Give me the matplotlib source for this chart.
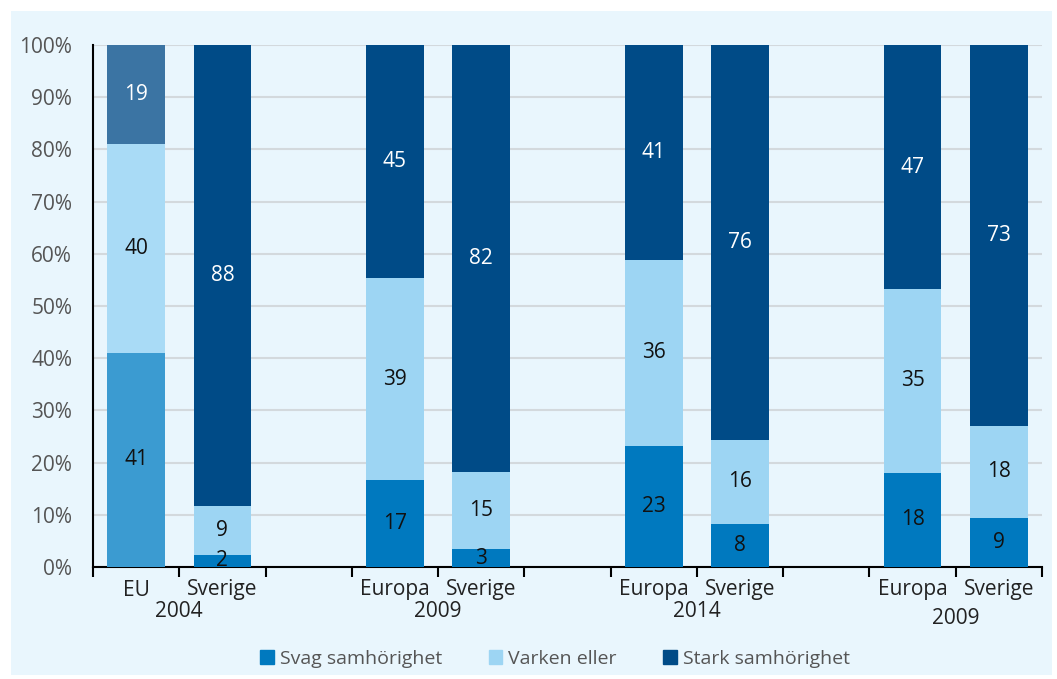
import matplotlib
matplotlib.use('Agg')
import matplotlib.pyplot as plt
import matplotlib.transforms as mtransforms
from matplotlib.patches import Rectangle
import numpy as np

plt.rcParams['font.family'] = ['Open Sans', 'DejaVu Sans']

# bar layout: slot positions (gaps between the year groups)
positions = [0, 1, 3, 4, 6, 7, 9, 10]
bar_labels = ['EU', 'Sverige', 'Europa', 'Sverige', 'Europa', 'Sverige', 'Europa', 'Sverige']
years = ['2004', '2009', '2014', '2009']
svag = [41, 2.3, 16.6, 3.4, 23.2, 8.3, 18.1, 9.3]
varken = [40, 9.3, 38.7, 14.8, 35.7, 16.1, 35.1, 17.8]
stark = [19, 88.4, 44.7, 81.8, 41.1, 75.6, 46.8, 72.9]
series_names = ['Svag samhörighet', 'Varken eller', 'Stark samhörighet']

colors = ['#0079bf', '#9dd5f3', '#004b87']
eu_colors = ['#3b9bd1', '#a9dbf6', '#3b74a3']  # first bar is paler

FS = 15

fig = plt.figure(figsize=(10.57, 6.79), dpi=100)
fig.patch.set_facecolor('white')
panel = Rectangle((11 / 1057, 4 / 679), 1041 / 1057, 664 / 679,
                  transform=fig.transFigure, facecolor='#e9f6fd',
                  edgecolor='none', zorder=-10)
fig.patches.append(panel)

ax = fig.add_axes([93 / 1057, 1 - 567 / 679, 949 / 1057, 522 / 679])
ax.set_facecolor('none')
ax.set_zorder(1)

bottom = np.zeros(len(positions))
for k, vals in enumerate([svag, varken, stark]):
    vals = np.array(vals)
    cols = [eu_colors[k]] + [colors[k]] * (len(positions) - 1)
    ax.bar(positions, vals, bottom=bottom, width=0.67, color=cols, zorder=3)
    for x, b, v in zip(positions, bottom, vals):
        tc = 'white' if k == 2 else '#111111'
        ax.text(x, b + v / 2, str(int(round(v))), ha='center', va='center',
                fontsize=FS, color=tc, zorder=4)
    bottom += vals

ax.set_ylim(0, 100)
ax.set_xlim(-0.5, 10.5)
ax.set_yticks(np.arange(0, 101, 10))
ax.set_yticklabels([f'{t}%' for t in range(0, 101, 10)], fontsize=FS, color='#555555')
ax.yaxis.grid(True, color='#d3d9dd', linewidth=1.5, zorder=0)
ax.set_axisbelow(True)
ax.tick_params(axis='y', length=0, pad=15)

ax.set_xticks(positions)
ax.set_xticklabels(bar_labels, fontsize=FS, color='#222222')
ax.set_xticks(np.arange(-0.5, 11, 1), minor=True)
ax.tick_params(axis='x', which='major', length=0, pad=9)
ax.tick_params(axis='x', which='minor', length=7, width=1.5, direction='out')

for s in ['top', 'right']:
    ax.spines[s].set_visible(False)
ax.spines['left'].set_linewidth(1.5)
ax.spines['bottom'].set_linewidth(1.5)

trans = mtransforms.blended_transform_factory(ax.transData, ax.transAxes)
for i, yr in enumerate(years):
    yoff = -0.098 if i == len(years) - 1 else -0.086
    ax.text(positions[2 * i] + 0.5, yoff, yr, transform=trans, ha='center', va='center',
            fontsize=FS, color='#222222')

# legend
handles = [Rectangle((0, 0), 1, 1, color=c) for c in colors]
fig.legend(handles, series_names, loc='center', bbox_to_anchor=(0.525, 1 - 659 / 679),
           ncol=3, frameon=False, fontsize=14, handlelength=0.7, handleheight=0.7,
           handletextpad=0.3, columnspacing=2.4, labelcolor='#555555')

fig.savefig('out.png', dpi=100, facecolor='white')
